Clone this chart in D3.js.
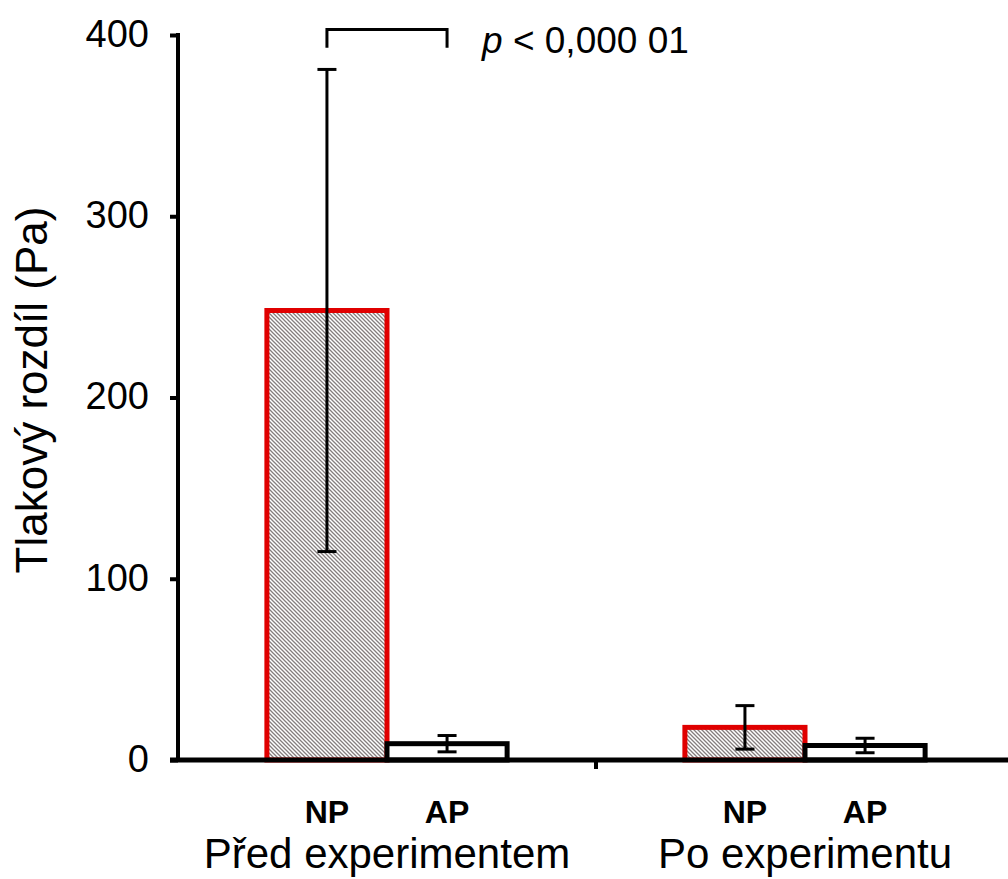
<!DOCTYPE html>
<html>
<head>
<meta charset="utf-8">
<script src="https://cdn.jsdelivr.net/npm/d3@7/dist/d3.min.js"></script>
<style>
  body { margin: 0; background: #fff; }
  text { font-family: "Liberation Sans", Arial, sans-serif; fill: #000; }
</style>
</head>
<body>
<div class="chart"></div>
<script>
// data
var groups = ["Před experimentem", "Po experimentu"];
var subgroups = ["NP", "AP"];
var means = [[248, 9], [18, 8]];      // Pa, [NP, AP] per group
var errors = [[133, 4.5], [12, 4]];   // +/- error bar
var yTicks = [0, 100, 200, 300, 400];
var yLabel = "Tlakový rozdíl (Pa)";
var pText = "< 0,000 01";

var width = 1008, height = 879;
var svg = d3.select(".chart").append("svg")
    .attr("width", width)
    .attr("height", height);

var mLeft = 178, mBottom = 760, mTop = 35;

var y = d3.scaleLinear().domain([0, 400]).range([mBottom, mTop]);
var x0 = d3.scaleBand().domain(groups).range([mLeft, 1014]);
var x1 = d3.scaleBand().domain(subgroups).range([0, x0.bandwidth()])
    .paddingInner(0).paddingOuter(0.74);

// hatch pattern for the NP bars
var defs = svg.append("defs");
var pat = defs.append("pattern")
    .attr("id", "hatch")
    .attr("patternUnits", "userSpaceOnUse")
    .attr("width", 4).attr("height", 4);
pat.append("rect").attr("width", 4).attr("height", 4).attr("fill", "#fff");
pat.append("path")
    .attr("d", "M-1,-1 L5,5 M-1,3 L1,5 M3,-1 L5,1")
    .attr("stroke", "#857e7e")
    .attr("stroke-width", 1.3);

// flatten rows
var rows = [];
groups.forEach(function(g, gi){
	subgroups.forEach(function(s, si){
		rows.push({group: g, sub: s, value: means[gi][si], err: errors[gi][si]});
	});
});

function bx(d){ return x0(d.group) + x1(d.sub); }
function cx(d){ return bx(d) + x1.bandwidth() / 2; }

// bars
svg.selectAll("rect.bar")
    .data(rows)
    .enter().append("rect")
    .attr("class", "bar")
    .attr("x", bx)
    .attr("y", function(d){ return y(d.value); })
    .attr("width", x1.bandwidth())
    .attr("height", function(d){ return mBottom - y(d.value); })
    .attr("fill", function(d){ return d.sub == "NP" ? "url(#hatch)" : "#fff"; })
    .attr("stroke", function(d){ return d.sub == "NP" ? "#e00000" : "#000"; })
    .attr("stroke-width", 5);

// error bars
var capW = 19;
var eb = svg.selectAll("g.err").data(rows).enter().append("g").attr("class", "err")
    .attr("stroke", "#000").attr("stroke-width", 3);
eb.append("line")
    .attr("x1", cx).attr("x2", cx)
    .attr("y1", function(d){ return y(d.value + d.err); })
    .attr("y2", function(d){ return y(d.value - d.err); });
eb.append("line")
    .attr("x1", function(d){ return cx(d) - capW/2; })
    .attr("x2", function(d){ return cx(d) + capW/2; })
    .attr("y1", function(d){ return y(d.value + d.err); })
    .attr("y2", function(d){ return y(d.value + d.err); });
eb.append("line")
    .attr("x1", function(d){ return cx(d) - capW/2; })
    .attr("x2", function(d){ return cx(d) + capW/2; })
    .attr("y1", function(d){ return y(d.value - d.err); })
    .attr("y2", function(d){ return y(d.value - d.err); });

// y axis
var yAxis = svg.append("g")
    .attr("transform", "translate(" + mLeft + ",0)")
    .call(d3.axisLeft(y).tickValues(yTicks).tickSize(8).tickPadding(21).tickSizeOuter(0));
yAxis.select(".domain").attr("stroke-width", 4).attr("d", "M0," + (mTop - 2) + "V" + (mBottom + 2));
yAxis.selectAll(".tick line").attr("stroke-width", 4);
yAxis.selectAll(".tick text")
    .attr("dy", "0.3em")
    .style("font-size", "38px")
    .style("font-family", "'Liberation Sans', Arial, sans-serif");

// x axis
svg.append("line")
    .attr("x1", mLeft - 8).attr("x2", width)
    .attr("y1", mBottom).attr("y2", mBottom)
    .attr("stroke", "#000").attr("stroke-width", 5);
svg.append("line")
    .attr("x1", x0(groups[1])).attr("x2", x0(groups[1]))
    .attr("y1", mBottom).attr("y2", mBottom + 9)
    .attr("stroke", "#000").attr("stroke-width", 4);

// subgroup labels
svg.selectAll("text.sub").data(rows).enter().append("text")
    .attr("class", "sub")
    .attr("x", cx)
    .attr("y", 823)
    .attr("text-anchor", "middle")
    .style("font-size", "32px")
    .style("font-weight", "bold")
    .text(function(d){ return d.sub; });

// group labels
svg.selectAll("text.grp").data(groups).enter().append("text")
    .attr("class", "grp")
    .attr("x", function(d){ return x0(d) + x0.bandwidth() / 2; })
    .attr("y", 868)
    .attr("text-anchor", "middle")
    .style("font-size", "42px")
    .text(function(d){ return d; });

// y label
svg.append("text")
    .attr("transform", "translate(47,390) rotate(-90)")
    .attr("text-anchor", "middle")
    .style("font-size", "44px")
    .text(yLabel);

// significance bracket between NP and AP before experiment
var bL = x0(groups[0]) + x1("NP") + x1.bandwidth() / 2;
var bR = x0(groups[0]) + x1("AP") + x1.bandwidth() / 2;
var bTop = y(403), bBot = y(393);
svg.append("path")
    .attr("d", "M" + bL + "," + bBot + "V" + bTop + "H" + bR + "V" + bBot)
    .attr("fill", "none").attr("stroke", "#000").attr("stroke-width", 3);

var pt = svg.append("text")
    .attr("x", bR + 35)
    .attr("y", 53)
    .style("font-size", "37px");
pt.append("tspan").style("font-style", "italic").text("p");
pt.append("tspan").text(" " + pText);
</script>
</body>
</html>
